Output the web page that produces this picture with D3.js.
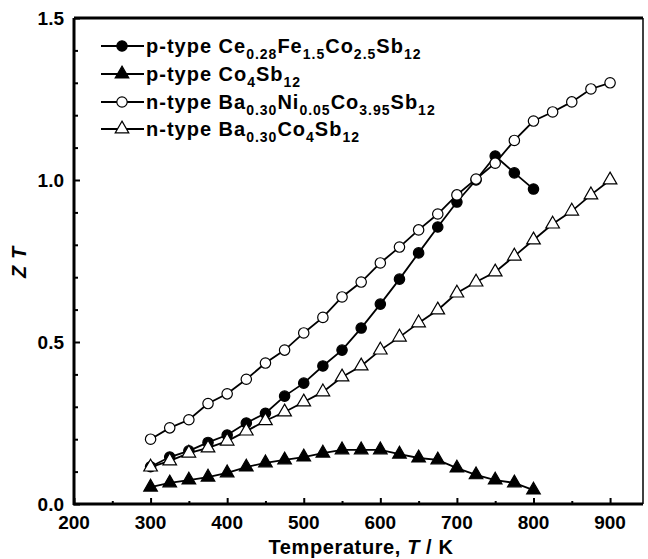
<!DOCTYPE html>
<html>
<head>
<meta charset="utf-8">
<title>ZT vs temperature</title>
<script src="https://d3js.org/d3.v7.min.js"></script>
<style>
    body { margin: 0; background: #fff; }
    svg text { font-family: "Liberation Sans", Arial, sans-serif; fill: #000; }
    .tick-label { font-size: 19px; font-weight: bold; }
    .axis-title { font-size: 20px; font-weight: bold; letter-spacing: 0.6px; }
    .legend-text { font-size: 20px; font-weight: bold; letter-spacing: 1px; }
    .series { fill: none; stroke: #000; stroke-width: 1.8; }
</style>
</head>
<body>
<svg width="648" height="559"></svg>
<script>
// temperatures (K)
const tempsP = [300,325,350,375,400,425,450,475,500,525,550,575,600,625,650,675,700,725,750,775,800];
const tempsN = [300,325,350,375,400,425,450,475,500,525,550,575,600,625,650,675,700,725,750,775,800,825,850,875,900];

// ZT values
const ceFeCo = [0.115,0.145,0.164,0.19,0.213,0.25,0.28,0.333,0.373,0.426,0.475,0.543,0.617,0.694,0.775,0.855,0.932,1.0,1.074,1.022,0.972];
const co4sb12 = [0.052,0.065,0.074,0.083,0.096,0.114,0.127,0.136,0.145,0.157,0.167,0.167,0.167,0.154,0.142,0.136,0.111,0.09,0.074,0.065,0.043];
const baNiCo = [0.20,0.235,0.26,0.31,0.34,0.385,0.435,0.475,0.528,0.576,0.639,0.685,0.744,0.793,0.846,0.895,0.954,1.003,1.052,1.122,1.182,1.21,1.241,1.281,1.30];
const baCo = [0.114,0.133,0.157,0.173,0.194,0.225,0.257,0.284,0.315,0.346,0.392,0.426,0.475,0.515,0.559,0.599,0.651,0.685,0.716,0.765,0.815,0.864,0.904,0.954,1.0];

const xTicks = [200,300,400,500,600,700,800,900];
const yTicks = [0.0,0.5,1.0,1.5];

// legend labels: [text, isSubscript]
const labels = [
    [["p-type Ce",0],["0.28",1],["Fe",0],["1.5",1],["Co",0],["2.5",1],["Sb",0],["12",1]],
    [["p-type Co",0],["4",1],["Sb",0],["12",1]],
    [["n-type Ba",0],["0.30",1],["Ni",0],["0.05",1],["Co",0],["3.95",1],["Sb",0],["12",1]],
    [["n-type Ba",0],["0.30",1],["Co",0],["4",1],["Sb",0],["12",1]]
];

const series = [
    {x: tempsP, y: ceFeCo, shape: d3.symbolCircle, fill: "#000", size: 85},
    {x: tempsP, y: co4sb12, shape: d3.symbolTriangle, fill: "#000", size: 80},
    {x: tempsN, y: baNiCo, shape: d3.symbolCircle, fill: "#fff", size: 85},
    {x: tempsN, y: baCo, shape: d3.symbolTriangle, fill: "#fff", size: 80}
];

const plotL = 74, plotR = 643, plotT = 18, plotB = 504;

const svg = d3.select("svg");

const x = d3.scaleLinear().domain([200, 943]).range([plotL, plotR]);
const y = d3.scaleLinear().domain([0, 1.5]).range([plotB, plotT]);

// frame
svg.append("line").attr("x1", plotL).attr("x2", plotR).attr("y1", plotT).attr("y2", plotT)
    .attr("stroke", "#000").attr("stroke-width", 3);
svg.append("line").attr("x1", plotR).attr("x2", plotR).attr("y1", plotT).attr("y2", plotB)
    .attr("stroke", "#000").attr("stroke-width", 1.5);

// axes, ticks inward
const xAxis = svg.append("g").attr("transform", "translate(0," + plotB + ")")
    .call(d3.axisBottom(x).tickValues(d3.range(200, 901, 50)).tickSize(-6).tickFormat(""));
xAxis.selectAll(".tick line")
    .attr("y2", d => d % 100 === 0 ? -6 : -3)
    .attr("stroke-width", 2);
xAxis.select(".domain").attr("stroke-width", 3).attr("d", "M" + (plotL - 1) + ",0H" + plotR);

const yAxis = svg.append("g").attr("transform", "translate(" + plotL + ",0)")
    .call(d3.axisLeft(y).tickValues(d3.range(0, 16).map(i => i / 10)).tickSize(-6).tickFormat(""));
yAxis.selectAll(".tick line")
    .attr("x2", (d, i) => i % 5 === 0 ? 6 : 4)
    .attr("stroke-width", 2);
yAxis.select(".domain").attr("stroke-width", 3).attr("d", "M0," + plotT + "V" + (plotB + 1));

// tick labels
svg.selectAll(".xlab").data(xTicks).join("text")
    .attr("class", "tick-label")
    .attr("x", d => x(d)).attr("y", 529)
    .attr("text-anchor", "middle")
    .text(d => d);
svg.selectAll(".ylab").data(yTicks).join("text")
    .attr("class", "tick-label")
    .attr("x", 64).attr("y", d => y(d) + 7)
    .attr("text-anchor", "end")
    .text(d => d.toFixed(1));

// axis titles
const xt = svg.append("text").attr("class", "axis-title")
    .attr("x", 361).attr("y", 554).attr("text-anchor", "middle");
xt.append("tspan").text("Temperature, ");
xt.append("tspan").attr("font-style", "italic").text("T");
xt.append("tspan").text(" / K");

svg.append("text").attr("class", "axis-title")
    .attr("transform", "translate(26,262) rotate(-90)")
    .attr("text-anchor", "middle")
    .attr("font-style", "italic")
    .text("Z T");

// series
const line = d3.line();
series.forEach(s => {
    const pts = s.x.map((t, i) => [x(t), y(s.y[i])]);
    svg.append("path").attr("class", "series").attr("d", line(pts));
    svg.append("g").selectAll("path").data(pts).join("path")
        .attr("transform", d => "translate(" + d[0] + "," + d[1] + ")")
        .attr("d", d3.symbol().type(s.shape).size(s.size))
        .attr("fill", s.fill).attr("stroke", "#000").attr("stroke-width", 1.2);
});

// legend
const legRows = [46, 74, 102, 129];
series.forEach((s, i) => {
    const ly = legRows[i];
    svg.append("line").attr("x1", 101).attr("x2", 144).attr("y1", ly).attr("y2", ly)
        .attr("stroke", "#000").attr("stroke-width", 1.8);
    svg.append("path").attr("transform", "translate(122," + ly + ")")
        .attr("d", d3.symbol().type(s.shape).size(s.size))
        .attr("fill", s.fill).attr("stroke", "#000").attr("stroke-width", 1.2);
    const t = svg.append("text").attr("class", "legend-text").attr("x", 146).attr("y", ly + 7);
    labels[i].forEach(p => {
        const ts = t.append("tspan").text(p[0]);
        if (p[1]) ts.attr("font-size", "14px").attr("dy", 6);
        else if (t.selectAll("tspan").size() > 1) ts.attr("dy", -6);
    });
});
</script>
</body>
</html>
